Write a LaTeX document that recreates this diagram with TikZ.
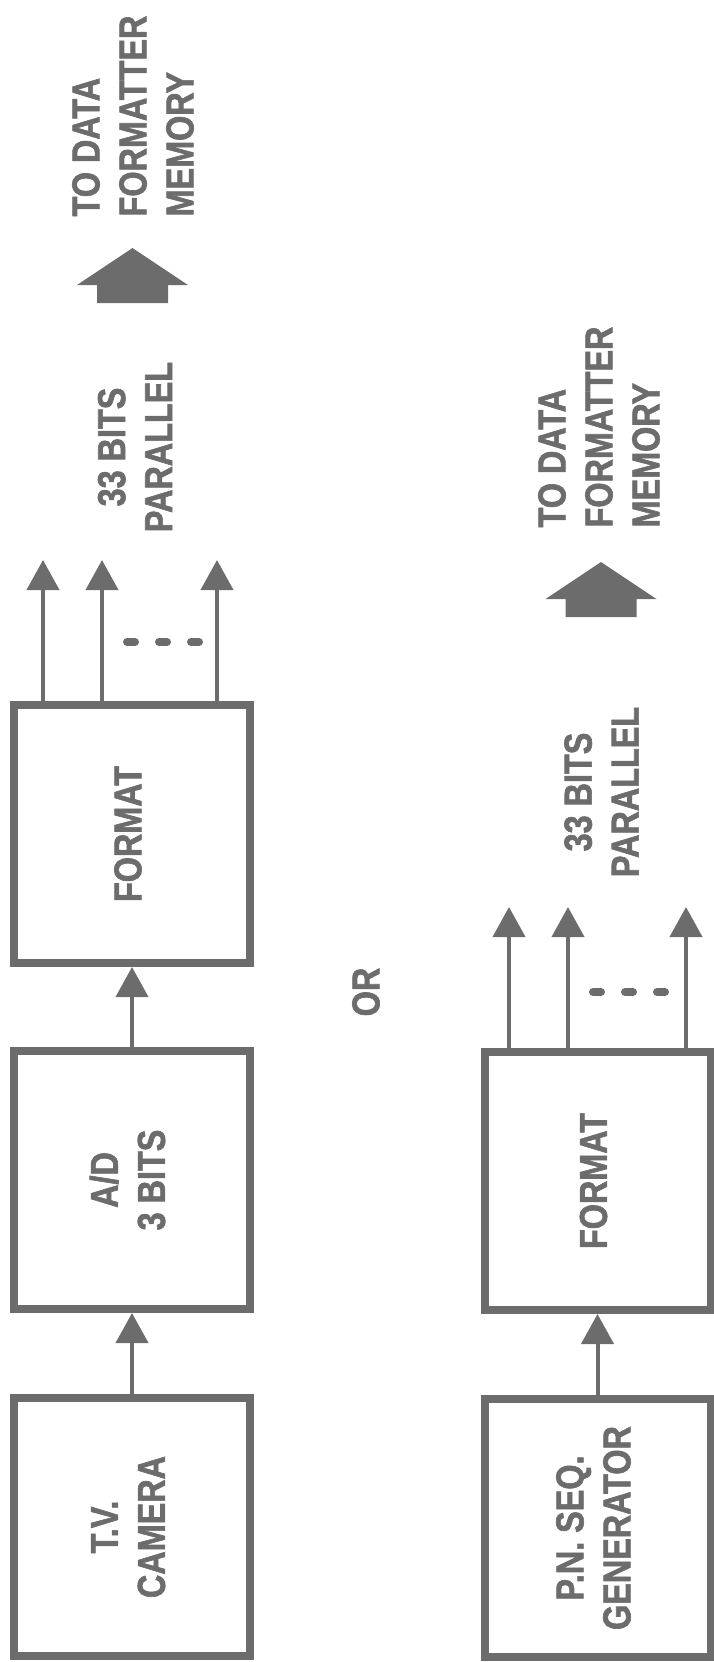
\documentclass[tikz,border=0pt]{standalone}
\usepackage{fontspec}
\setmainfont{Liberation Sans}[FakeStretch=0.83, BoldFeatures={FakeBold=1.6}]
\usetikzlibrary{arrows.meta}
\definecolor{ink}{RGB}{108,108,108}
\newcommand{\vlabel}[1]{\rotatebox{90}{\begin{tabular}{@{}c@{}}#1\end{tabular}}}

\begin{document}
\begin{tikzpicture}[
    x=1pt, y=-1pt,
    every node/.style={font=\fontsize{39}{47}\selectfont\bfseries, text=ink},
    blockbox/.style={
      draw=ink,
      line width=8pt,
      minimum width=236pt,
      minimum height=258pt,
      inner sep=0pt
    },
    sig/.style={draw=ink, line width=4pt, -{Triangle[width=32pt,length=30pt]}},
    gapline/.style={draw=ink, line width=8pt, line cap=round, dash pattern=on 8pt off 24pt},
    sidetext/.style={rotate=90, inner sep=0pt}
  ]
  \useasboundingbox (0,0) rectangle (714,1662);

  \node[blockbox] (cam) at (132,1527) {\vlabel{T.V.\\CAMERA}};
  \node[blockbox] (ad) at (132,1180) {\vlabel{A/D\\3 BITS}};
  \node[blockbox] (fmtA) at (132,834) {\vlabel{FORMAT}};

  \node[blockbox,minimum width=226pt] (pn) at (597.5,1528) {\vlabel{P.N. SEQ.\\GENERATOR}};
  \node[blockbox,minimum width=226pt] (fmtB) at (597.5,1181) {\vlabel{FORMAT}};

  \draw[sig] (cam) -- (ad);
  \draw[sig] (ad) -- (fmtA);
  \draw[sig] (pn) -- (fmtB);

  \coordinate (tA1) at (43,560);
  \coordinate (tA2) at (102,560);
  \coordinate (tA3) at (217,560);
  \coordinate (tB1) at (509,907);
  \coordinate (tB2) at (568,907);
  \coordinate (tB3) at (686,907);
  \foreach \t in {tA1,tA2,tA3}
    \draw[sig] (\t |- fmtA.north) -- (\t);
  \foreach \t in {tB1,tB2,tB3}
    \draw[sig] (\t |- fmtB.north) -- (\t);

  \draw[gapline] (127,642) -- (199,642);
  \draw[gapline] (593,992) -- (665,992);

  \node[sidetext,align=center] (bitsA) at (135,447) {33 BITS\\PARALLEL};
  \node[sidetext,align=center] (bitsB) at (601.5,792) {33 BITS\\PARALLEL};
  \node[sidetext] (orlabel) at (366,992) {OR};

  \foreach \cx/\ty in {132.5/248, 601/562}
    \fill[ink] (\cx,\ty) -- ++(55.5,37) -- ++(-20,0) -- ++(0,18) -- ++(-71,0)
      -- ++(0,-18) -- ++(-20,0) -- cycle;

  \node[sidetext,align=left] (memA) at (133,116) {TO DATA\\FORMATTER\\MEMORY};
  \node[sidetext,align=left] (memB) at (599,427) {TO DATA\\FORMATTER\\MEMORY};
\end{tikzpicture}
\end{document}
